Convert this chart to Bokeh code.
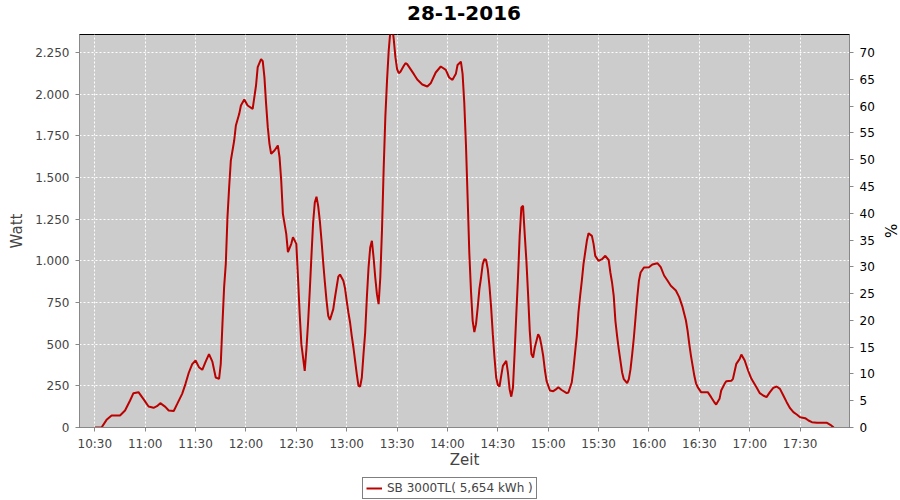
import pandas as pd
from bokeh.plotting import figure
from bokeh.layouts import column
from bokeh.core.properties import value
from bokeh.models import (Range1d, LinearAxis, FixedTicker, DatetimeTickFormatter,
                          Legend, LegendItem, ColumnDataSource)
from bokeh.embed import file_html
from bokeh.resources import INLINE

# ---------------- data ----------------
title_text = "28-1-2016"
series_name = "SB 3000TL( 5,654 kWh )"
day = "2016-01-28"

zeit = ["10:30","10:34","10:37","10:40","10:45","10:48","10:51","10:53","10:56","10:59",
        "11:02","11:05","11:07","11:09","11:12","11:14","11:17","11:19","11:22","11:24",
        "11:26","11:28","11:30","11:32","11:34","11:36","11:38","11:40","11:42","11:44",
        "11:45","11:46","11:47","11:48","11:49","11:50","11:51","11:53","11:54","11:56",
        "11:57","11:59","12:01","12:04","12:05","12:06","12:07","12:09","12:10","12:11",
        "12:12","12:13","12:14","12:15","12:17","12:19","12:20","12:21","12:22","12:24",
        "12:25","12:27","12:28","12:30","12:31","12:32","12:33","12:34","12:35","12:36",
        "12:37","12:38","12:39","12:40","12:41","12:42","12:43","12:44","12:45","12:46",
        "12:47","12:48","12:49","12:50","12:52","12:53","12:55","12:56","12:58","12:59",
        "13:00","13:01","13:02","13:03","13:04","13:05","13:06","13:07","13:08","13:09",
        "13:10","13:11","13:12","13:13","13:14","13:15","13:16","13:17","13:18","13:19",
        "13:20","13:21","13:22","13:23","13:24","13:25","13:26","13:27","13:28","13:29",
        "13:30","13:31","13:32","13:34","13:35","13:36","13:38","13:40","13:42","13:45",
        "13:48","13:50","13:53","13:56","13:59","14:01","14:03","14:05","14:06","14:08",
        "14:09","14:10","14:11","14:12","14:13","14:14","14:15","14:16","14:17","14:18",
        "14:19","14:20","14:21","14:22","14:23","14:24","14:25","14:26","14:27","14:28",
        "14:29","14:30","14:31","14:32","14:33","14:35","14:36","14:37","14:38","14:39",
        "14:40","14:41","14:42","14:43","14:44","14:45","14:46","14:47","14:48","14:49",
        "14:50","14:51","14:52","14:54","14:55","14:56","14:57","14:58","14:59","15:01",
        "15:03","15:05","15:06","15:08","15:11","15:12","15:14","15:15","15:16","15:17",
        "15:18","15:19","15:20","15:21","15:22","15:23","15:24","15:26","15:27","15:28",
        "15:30","15:32","15:34","15:36","15:37","15:38","15:39","15:40","15:41","15:42",
        "15:43","15:44","15:45","15:47","15:48","15:49","15:50","15:51","15:52","15:53",
        "15:54","15:55","15:57","16:00","16:02","16:05","16:07","16:09","16:11","16:13",
        "16:16","16:18","16:20","16:22","16:23","16:24","16:25","16:26","16:27","16:28",
        "16:29","16:31","16:33","16:35","16:37","16:39","16:40","16:42","16:43","16:45",
        "16:46","16:49","16:50","16:52","16:54","16:55","16:57","16:59","17:01","17:04",
        "17:06","17:08","17:10","17:12","17:14","17:16","17:18","17:20","17:22","17:24",
        "17:26","17:28","17:30","17:33","17:35","17:37","17:40","17:46","17:48","17:50"]

watt = [0,0,46,72,72,102,162,206,212,170,
        126,118,128,146,124,102,99,140,202,262,
        330,380,402,362,346,395,440,395,300,292,
        382,620,842,982,1262,1442,1602,1722,1812,1882,
        1932,1968,1932,1912,1982,2052,2162,2210,2198,2102,
        1942,1802,1702,1642,1662,1692,1622,1482,1282,1162,
        1052,1102,1142,1102,900,680,500,420,340,470,
        630,820,1030,1230,1350,1385,1330,1240,1122,990,
        870,760,670,645,710,780,905,918,880,835,
        760,690,630,550,480,400,320,250,246,300,
        440,570,780,960,1080,1120,1020,900,800,740,
        900,1182,1550,1862,2080,2260,2380,2420,2330,2222,
        2150,2126,2135,2170,2186,2180,2150,2120,2088,2058,
        2046,2065,2130,2166,2146,2100,2086,2122,2175,2195,
        2122,1950,1700,1380,1050,820,640,572,620,720,
        830,900,980,1010,1005,950,850,720,560,420,
        300,255,246,310,370,400,330,230,185,240,
        450,680,900,1150,1320,1330,1160,1000,800,580,
        440,420,480,560,540,490,430,345,280,222,
        218,232,242,225,206,210,270,350,450,550,
        690,790,880,980,1050,1120,1165,1150,1102,1030,
        1000,1010,1030,1005,930,870,790,640,550,470,
        400,330,290,266,290,350,440,540,660,780,
        880,930,960,962,978,986,962,912,882,850,
        822,782,722,642,580,500,430,370,310,265,
        242,212,212,212,182,150,138,172,222,262,
        278,280,292,382,412,438,402,342,292,242,
        206,192,182,212,238,246,232,192,152,116,
        92,78,62,56,42,32,28,28,16,0]

watt_ticks = [0, 250, 500, 750, 1000, 1250, 1500, 1750, 2000, 2250]
watt_labels = ["0", "250", "500", "750", "1.000", "1.250", "1.500", "1.750", "2.000", "2.250"]
pct_ticks = [0, 5, 10, 15, 20, 25, 30, 35, 40, 45, 50, 55, 60, 65, 70]
time_ticks = ["10:30", "11:00", "11:30", "12:00", "12:30", "13:00", "13:30", "14:00",
              "14:30", "15:00", "15:30", "16:00", "16:30", "17:00", "17:30"]
watt_max = 2358
pct_per_watt = 70 / 2250
x_start, x_end = "10:20:53", "17:59:24"

# ---------------- chart ----------------
def ms(hhmm):
    return pd.Timestamp(f"{day} {hhmm}").value / 1e6

FONT = "DejaVu Sans"
LINE_COLOR = "#BB0000"

# --- title strip ---
p0 = figure(width=900, height=33, x_range=Range1d(0, 900), y_range=Range1d(0, 33),
            output_backend="svg", toolbar_location=None, min_border=0,
            x_axis_location=None, y_axis_location=None, outline_line_color=None)
p0.grid.visible = False
p0.text(x=[450], y=[21], text=[title_text], text_align="center", text_baseline="alphabetic",
        text_font=value(FONT), text_font_size="20px", text_font_style="bold", text_color="black")

# --- main plot ---
src = ColumnDataSource(dict(t=pd.to_datetime([f"{day} {z}" for z in zeit]), w=watt))
p = figure(frame_width=770, frame_height=393, x_axis_type="datetime",
           x_range=Range1d(ms(x_start), ms(x_end)), y_range=Range1d(0, watt_max),
           output_backend="svg", toolbar_location=None,
           background_fill_color="#CCCCCC", border_fill_color="white",
           outline_line_color="black", outline_line_width=1,
           min_border_left=79, min_border_right=51, min_border_top=1, min_border_bottom=50)

p.extra_y_ranges = {"pct": Range1d(0, watt_max * pct_per_watt)}
rax = LinearAxis(y_range_name="pct", axis_label="%")
p.add_layout(rax, "right")

p.xaxis.ticker = FixedTicker(ticks=[ms(t) for t in time_ticks])
p.xaxis.formatter = DatetimeTickFormatter(minutes="%H:%M", hourmin="%H:%M", hours="%H:%M",
                                          minsec="%H:%M", days="%H:%M")
p.xaxis.axis_label = "Zeit"
p.yaxis[0].ticker = FixedTicker(ticks=watt_ticks)
p.yaxis[0].major_label_overrides = dict(zip(watt_ticks, watt_labels))
p.yaxis[0].axis_label = "Watt"
rax.ticker = FixedTicker(ticks=pct_ticks)

for ax in p.axis:
    ax.major_label_text_font = FONT
    ax.major_label_text_font_size = "12px"
    ax.major_label_text_color = "#444444"
    ax.axis_label_text_font = FONT
    ax.axis_label_text_font_size = "15px"
    ax.axis_label_text_font_style = "normal"
    ax.axis_label_text_color = "#444444"
    ax.axis_line_color = "#888888"
    ax.major_tick_line_color = "#888888"
    ax.major_tick_in = 0
    ax.major_tick_out = 4
    ax.minor_tick_line_color = None
    ax.major_label_standoff = 6
    ax.axis_label_standoff = 6
p.xaxis.major_label_standoff = 5
p.xaxis.axis_label_standoff = -3
rax.major_label_text_color = "black"
rax.axis_label_text_color = "black"
rax.axis_label_standoff = 3

p.xgrid.ticker = p.xaxis[0].ticker
p.ygrid.ticker = p.yaxis[0].ticker
for g in (p.xgrid, p.ygrid):
    g.grid_line_color = "white"
    g.grid_line_dash = "2 2"
    g.grid_line_width = 1

p.line("t", "w", source=src, line_color=LINE_COLOR, line_width=2)

# --- legend strip ---
p2 = figure(width=900, height=23, x_range=Range1d(0, 1), y_range=Range1d(0, 1),
            output_backend="svg", toolbar_location=None, min_border=0,
            x_axis_location=None, y_axis_location=None, outline_line_color=None)
p2.grid.visible = False
# legend key renderer: placed outside the visible range so only its legend swatch shows
key = p2.line(x=[5, 6], y=[5, 6], line_color=LINE_COLOR, line_width=2)
legend = Legend(items=[LegendItem(label=series_name, renderers=[key])],
                location=(283, 1), orientation="horizontal",
                border_line_color="black", border_line_width=1,
                label_text_font=FONT, label_text_font_size="12px", label_text_color="#444444",
                glyph_width=16, glyph_height=12, padding=3, margin=0, label_standoff=5,
                label_height=12, background_fill_alpha=1)
p2.add_layout(legend)

layout = column(p0, p, p2, spacing=0)
open("out.html", "w").write(file_html(layout, INLINE))
